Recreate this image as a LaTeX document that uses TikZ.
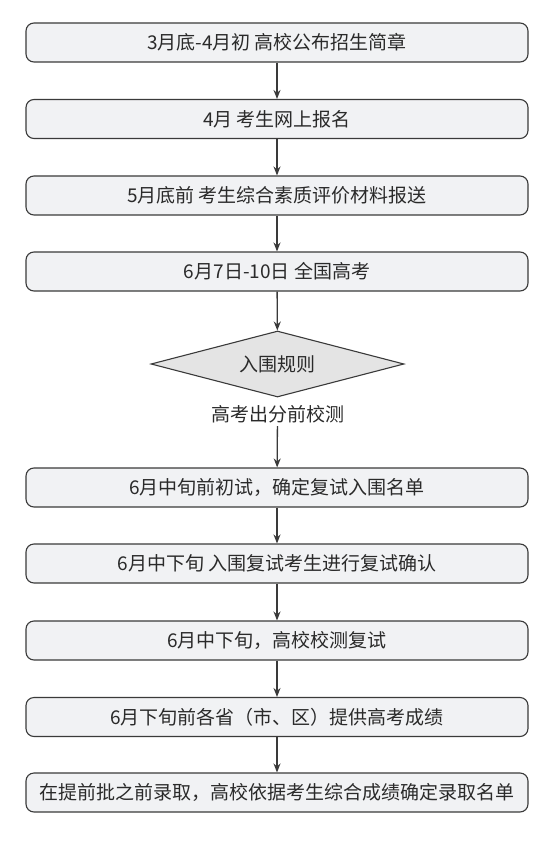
\documentclass[tikz,border=0pt]{standalone}
\usepackage{fontspec}
\setmainfont{Noto Sans CJK SC}
\usetikzlibrary{shapes.geometric,arrows.meta}
\definecolor{boxfill}{HTML}{F1F2F4}
\definecolor{dmdfill}{HTML}{E4E4E4}
\definecolor{edge}{HTML}{3A3A3A}
\definecolor{txt}{HTML}{2A2A2A}
\begin{document}
\begin{tikzpicture}[x=1pt,y=-1pt,
  stepbox/.style={draw=edge,fill=boxfill,line width=1.1pt,rounded corners=8pt,
    minimum width=502pt,minimum height=39pt,inner sep=0pt,text=txt,font=\fontsize{19}{22}\selectfont},
  decision/.style={draw=edge,fill=dmdfill,line width=1.1pt,diamond,shape aspect=3.83,
    minimum width=253pt,minimum height=66pt,inner sep=0pt,text=txt,font=\fontsize{19}{22}\selectfont},
  plain/.style={text=txt,inner sep=3pt,font=\fontsize{19}{22}\selectfont},
  arr/.style={draw=edge,line width=1.3pt,-{Stealth[length=9pt,width=7pt]}}]
\useasboundingbox (0,0) rectangle (554,850);
\node[stepbox] (b1) at (277,42.5) {3月底-4月初 高校公布招生简章};
\node[stepbox] (b2) at (277,119) {4月 考生网上报名};
\node[stepbox] (b3) at (277,195.5) {5月底前 考生综合素质评价材料报送};
\node[stepbox] (b4) at (277,271.5) {6月7日-10日 全国高考};
\node[decision] (d) at (277.5,364) {入围规则};
\node[plain] (l) at (277.5,414) {高考出分前校测};
\node[stepbox] (b5) at (277,487.5) {6月中旬前初试，确定复试入围名单};
\node[stepbox] (b6) at (277,563.5) {6月中下旬 入围复试考生进行复试确认};
\node[stepbox] (b7) at (277,640.5) {6月中下旬，高校校测复试};
\node[stepbox] (b8) at (277,717) {6月下旬前各省（市、区）提供高考成绩};
\node[stepbox] (b9) at (277,792.5) {在提前批之前录取，高校依据考生综合成绩确定录取名单};
\draw[arr] (b1) -- (b2);
\draw[arr] (b2) -- (b3);
\draw[arr] (b3) -- (b4);
\draw[arr] (b4) -- (d);
\draw[arr] (l) -- (b5);
\draw[arr] (b5) -- (b6);
\draw[arr] (b6) -- (b7);
\draw[arr] (b7) -- (b8);
\draw[arr] (b8) -- (b9);
\end{tikzpicture}
\end{document}
